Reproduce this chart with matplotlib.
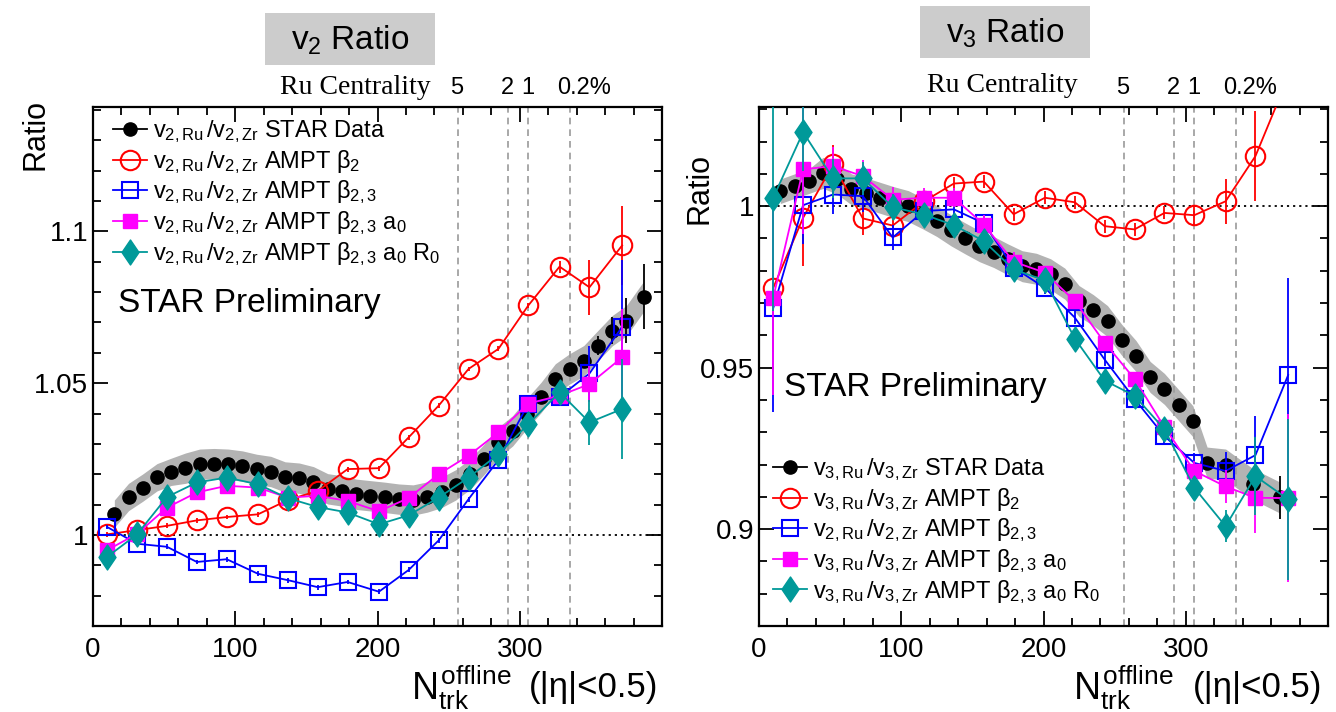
import matplotlib
matplotlib.use("Agg")
import matplotlib.pyplot as plt
from matplotlib.lines import Line2D
from matplotlib.patches import Rectangle
from matplotlib.path import Path
from matplotlib.ticker import MultipleLocator, FuncFormatter

plt.rcParams["font.family"] = ["Liberation Sans", "DejaVu Sans"]
plt.rcParams["mathtext.fontset"] = "custom"
plt.rcParams["mathtext.rm"] = "Liberation Sans"
plt.rcParams["mathtext.it"] = "Liberation Sans"
plt.rcParams["mathtext.bf"] = "Liberation Sans:bold"

# ---- STAR data, v2 ratio ----
v2_data_x = [15, 25, 35, 45, 55, 65, 75, 85, 95, 105, 115, 125, 135, 145, 155, 165, 175, 185, 195,
             205, 215, 225, 235, 245, 255, 265, 275, 285, 295, 305, 315, 325, 335, 345, 355, 365, 375, 387]
v2_data = [1.0070, 1.0125, 1.0156, 1.0190, 1.0208, 1.0220, 1.0233, 1.0235, 1.0233, 1.0227, 1.0216,
           1.0209, 1.0191, 1.0187, 1.0175, 1.0152, 1.0145, 1.0134, 1.0129, 1.0124, 1.0118, 1.0115,
           1.0125, 1.0140, 1.0165, 1.0200, 1.0249, 1.0305, 1.0343, 1.0400, 1.0453, 1.0514, 1.0547,
           1.0574, 1.0624, 1.0673, 1.0706, 1.0785]
v2_data_err = [0.0005] * 33 + [0.0015, 0.003, 0.0045, 0.0075, 0.0107]
v2_data_sys = [0.0045] * 5 + [0.005] * 28 + [0.005] * 5

# ---- STAR data, v3 ratio ----
v3_data_x = [15, 25, 35, 45, 55, 65, 75, 85, 95, 105, 115, 125, 135, 145, 155, 165, 175, 185, 195,
             205, 215, 225, 235, 245, 255, 265, 275, 285, 295, 305, 315, 328, 347, 366]
v3_data = [1.0046, 1.0062, 1.0077, 1.0103, 1.0085, 1.0052, 1.0040, 1.0026, 1.0012, 1.0000, 0.9978,
           0.9954, 0.9925, 0.9900, 0.9876, 0.9858, 0.9835, 0.9814, 0.9806, 0.9789, 0.9760, 0.9706,
           0.9678, 0.9644, 0.9586, 0.9536, 0.9471, 0.9434, 0.9384, 0.9334, 0.9206, 0.9200, 0.9140,
           0.9098]
v3_data_err = [0.0005] * 30 + [0.0015, 0.002, 0.003, 0.0067]
v3_data_sys = [0.0038] * 3 + [0.0048] * 31

# ---- AMPT, common Nch bins ----
model_x = [10, 31, 52, 73, 94, 116, 137, 158, 179, 201, 222, 243, 264, 285, 306, 328, 349, 372]

v2_b2 = [1.0002, 1.0016, 1.0030, 1.0048, 1.0059, 1.0068, 1.0115, 1.0145, 1.0217, 1.0220, 1.0322,
         1.0426, 1.0547, 1.0613, 1.0756, 1.0884, 1.0816, 1.0954]
v2_b23 = [1.0026, 0.9971, 0.9961, 0.9911, 0.9920, 0.9872, 0.9851, 0.9828, 0.9845, 0.9813, 0.9885,
          0.9982, 1.0118, 1.0247, 1.0433, 1.0455, 1.0532, 1.0686]
v2_b23_a0 = [0.9950, 1.0004, 1.0090, 1.0140, 1.0162, 1.0156, 1.0123, 1.0129, 1.0112, 1.0078, 1.0122,
             1.0200, 1.0261, 1.0338, 1.0433, 1.0459, 1.0497, 1.0585]
v2_b23_a0_r0 = [0.9928, 1.0002, 1.0125, 1.0173, 1.0189, 1.0167, 1.0121, 1.0092, 1.0074, 1.0035,
                1.0065, 1.0123, 1.0189, 1.0266, 1.0365, 1.0470, 1.0371, 1.0415]
v2_b2_err = [0.0008] * 15 + [0.002, 0.009, 0.013]
v2_b23_err = [0.0008] * 15 + [0.002, 0.009, 0.022]
v2_b23_a0_err = [0.0008] * 15 + [0.002, 0.006, 0.016]
v2_b23_a0_r0_err = [0.0008] * 15 + [0.002, 0.0075, 0.0165]

v3_b2 = [0.9747, 0.9964, 1.0129, 0.9962, 0.9940, 1.0015, 1.0070, 1.0076, 0.9975, 1.0026, 1.0012,
         0.9938, 0.9928, 0.9979, 0.9972, 1.0015, 1.0155, 1.0400]
v3_b23 = [0.9684, 1.0003, 1.0036, 1.0031, 0.9903, 0.9985, 0.9990, 0.9947, 0.9810, 0.9747, 0.9655,
          0.9525, 0.9403, 0.9288, 0.9205, 0.9180, 0.9229, 0.9477]
v3_b23_a0 = [0.9716, 1.0114, 1.0124, 1.0093, 1.0020, 1.0026, 1.0026, 0.9943, 0.9828, 0.9794, 0.9706,
             0.9577, 0.9465, 0.9316, 0.9180, 0.9132, 0.9097, 0.9096]
v3_b23_a0_r0 = [1.0026, 1.0229, 1.0086, 1.0086, 0.9997, 0.9974, 0.9941, 0.9892, 0.9804, 0.9770,
                0.9590, 0.9460, 0.9413, 0.9309, 0.9128, 0.9009, 0.9164, 0.9092]
v3_b2_err = [0.020, 0.015, 0.006, 0.005, 0.003, 0.003, 0.002, 0.002, 0.002, 0.002, 0.002, 0.002,
             0.002, 0.002, 0.003, 0.007, 0.014, 0.008]
v3_b23_err = [0.032, 0.012, 0.006, 0.005, 0.004, 0.003, 0.003, 0.003, 0.003, 0.002, 0.002, 0.002,
              0.002, 0.002, 0.003, 0.006, 0.012, 0.030]
v3_b23_a0_err = [0.030, 0.020, 0.006, 0.005, 0.004, 0.003, 0.003, 0.003, 0.003, 0.002, 0.002, 0.002,
                 0.002, 0.002, 0.003, 0.005, 0.011, 0.026]
v3_b23_a0_r0_err = [0.035, 0.012, 0.006, 0.005, 0.004, 0.003, 0.003, 0.003, 0.003, 0.002, 0.002,
                    0.002, 0.002, 0.002, 0.003, 0.005, 0.012, 0.025]

# Ru centrality boundaries in Nch
cent_x = [256.5, 291.5, 306, 335]
cent_labels = ["5", "2", "1", "0.2%"]
cent_label_x = [256, 291, 306, 345]

RED, BLUE, MAG, TEAL = "#ff0000", "#0000ff", "#ff00ff", "#009999"
DIAMOND = Path([(0, 1), (0.68, 0), (0, -1), (-0.68, 0), (0, 1)], closed=True)

STYLES = [
    dict(color=RED, marker="o", mfc="none", ms=14, mew=1.5),
    dict(color=BLUE, marker="s", mfc="none", ms=11, mew=1.5),
    dict(color=MAG, marker="s", mfc=MAG, ms=10.5, mew=1),
    dict(color=TEAL, marker=DIAMOND, mfc=TEAL, ms=18, mew=1),
]
DATA_STYLE = dict(color="black", marker="o", mfc="black", ms=9.5, mew=1)


def draw_panel(ax, dx, dy, derr, dsys, models, errs, ylim, yticks):
    ax.set_xlim(0, 400)
    ax.set_ylim(*ylim)
    lo = [y - s for y, s in zip(dy, dsys)]
    hi = [y + s for y, s in zip(dy, dsys)]
    ax.fill_between(dx, lo, hi, color="#b3b3b3", lw=0, zorder=1)
    ax.axhline(1.0, color="black", ls=(0, (1.2, 2.2)), lw=1.3, zorder=1.5)
    for c in cent_x:
        ax.axvline(c, color="#999999", ls=(0, (4, 3)), lw=1.2, zorder=1.5)
    ax.errorbar(dx, dy, yerr=derr, ls="none", elinewidth=1.3, capsize=0, zorder=3, **DATA_STYLE)
    for i, (y, e, st) in enumerate(zip(models, errs, STYLES)):
        ax.errorbar(model_x, y, yerr=e, ls="-", lw=1.3, elinewidth=1.3, capsize=0,
                    zorder=4 + i, **st)

    ax.xaxis.set_major_locator(MultipleLocator(100))
    ax.xaxis.set_minor_locator(MultipleLocator(20))
    ax.set_yticks(yticks)
    ax.yaxis.set_minor_locator(MultipleLocator(0.01))
    ax.yaxis.set_major_formatter(FuncFormatter(lambda v, p: f"{v:g}"))
    ax.xaxis.set_major_formatter(FuncFormatter(lambda v, p: "" if v >= 400 else f"{v:g}"))
    ax.tick_params(which="both", direction="in", top=True, right=True, width=1.3, labelsize=20)
    ax.tick_params(which="major", length=11)
    ax.tick_params(which="minor", length=5.5)
    ax.tick_params(axis="x", pad=8)
    for sp in ax.spines.values():
        sp.set_linewidth(1.6)

    tr = ax.get_xaxis_transform()
    for lx, lab in zip(cent_label_x, cent_labels):
        ax.text(lx, 1.037, lab, transform=tr, ha="center", va="center", fontsize=17)


def legend_handles():
    hs = [Line2D([], [], lw=1.3, **DATA_STYLE)]
    for st in STYLES:
        hs.append(Line2D([], [], lw=1.3, **st))
    return hs


fig = plt.figure(figsize=(13.36, 7.12), dpi=100)
W, H = 1336.0, 712.0
ax1 = fig.add_axes([93 / W, 86 / H, 569 / W, 519 / H])
ax2 = fig.add_axes([759 / W, 86 / H, 569 / W, 519 / H])

draw_panel(ax1, v2_data_x, v2_data, v2_data_err, v2_data_sys,
           [v2_b2, v2_b23, v2_b23_a0, v2_b23_a0_r0],
           [v2_b2_err, v2_b23_err, v2_b23_a0_err, v2_b23_a0_r0_err],
           (0.97, 1.141), [1.0, 1.05, 1.1])
draw_panel(ax2, v3_data_x, v3_data, v3_data_err, v3_data_sys,
           [v3_b2, v3_b23, v3_b23_a0, v3_b23_a0_r0],
           [v3_b2_err, v3_b23_err, v3_b23_a0_err, v3_b23_a0_r0_err],
           (0.87, 1.0307), [0.9, 0.95, 1.0])

r2 = r"$v_{2,Ru}\,/v_{2,Zr}$"
r3 = r"$v_{3,Ru}\,/v_{3,Zr}$"
labels_v2 = [r2 + " STAR Data", r2 + r" AMPT $\beta_2$", r2 + r" AMPT $\beta_{2,3}$",
             r2 + r" AMPT $\beta_{2,3}$ $a_0$", r2 + r" AMPT $\beta_{2,3}$ $a_0$ $R_0$"]
labels_v3 = [r3 + " STAR Data", r3 + r" AMPT $\beta_2$", r2 + r" AMPT $\beta_{2,3}$",
             r3 + r" AMPT $\beta_{2,3}$ $a_0$", r3 + r" AMPT $\beta_{2,3}$ $a_0$ $R_0$"]
leg_kw = dict(loc="upper left", frameon=False, fontsize=17, handlelength=1.45, handletextpad=0.25,
              labelspacing=0.12, borderpad=0, borderaxespad=0)
ax1.legend(legend_handles(), labels_v2, bbox_to_anchor=(0.035, 0.978), **leg_kw)
ax2.legend(legend_handles(), labels_v3, bbox_to_anchor=(0.025, 0.327), **leg_kw)

ax1.text(110, 0.622, "STAR Preliminary", transform=ax1.get_xaxis_transform(),
         ha="center", va="center", fontsize=24)
ax2.text(110, 0.459, "STAR Preliminary", transform=ax2.get_xaxis_transform(),
         ha="center", va="center", fontsize=24)

ax1.text(237, 1.037, "Ru Centrality", transform=ax1.get_xaxis_transform(), ha="right",
         va="center", fontsize=20, family="Liberation Serif")
ax2.text(224, 1.042, "Ru Centrality", transform=ax2.get_xaxis_transform(), ha="right",
         va="center", fontsize=20, family="Liberation Serif")

# y-axis titles
fig.text(35 / W, 1 - 134 / H, "Ratio", rotation=90, ha="center", va="center", fontsize=22)
fig.text(700 / W, 1 - 189 / H, "Ratio", rotation=90, ha="center", va="center", fontsize=22)

# x-axis titles
for nx, px in [(461, 594), (1123, 1258)]:
    fig.text(nx / W, 1 - 699 / H, r"$N_{trk}^{offline}$", ha="center", va="baseline", fontsize=27)
    fig.text(px / W, 1 - 697 / H, "(|η|<0.5)", ha="center", va="baseline", fontsize=25)

# panel headers on grey boxes
for x0, y0, cx, cy, txt in [(265, 13, 350, 40, r"$v_2$ Ratio"), (920, 6, 1005, 33, r"$v_3$ Ratio")]:
    fig.add_artist(Rectangle((x0 / W, 1 - (y0 + 52) / H), 170 / W, 52 / H,
                             transform=fig.transFigure, facecolor="#cccccc", edgecolor="none"))
    fig.text(cx / W, 1 - cy / H, txt, ha="center", va="center", fontsize=24)

fig.savefig("out.png", dpi=100)
